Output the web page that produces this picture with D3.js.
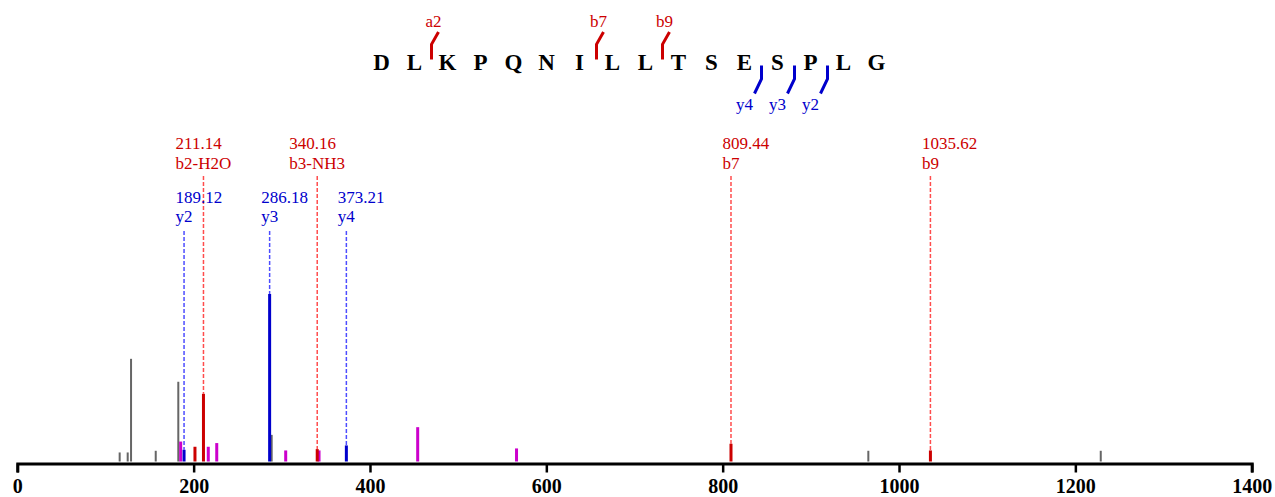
<!DOCTYPE html>
<html>
<head>
<meta charset="utf-8">
<script src="https://cdn.jsdelivr.net/npm/d3@7"></script>
<style>
  html, body { margin: 0; padding: 0; background: #fff; }
  svg { display: block; }
  text { font-family: "Liberation Serif", "Times New Roman", serif; }
</style>
</head>
<body>
<svg id="chart" width="1275" height="497"></svg>
<script>
// ---------- data ----------
const sequence = ["D","L","K","P","Q","N","I","L","L","T","S","E","S","P","L","G"];

// N-terminal (b/a) fragments: name, number of residues
const nTermNames = ["a2", "b7", "b9"];
const nTermSites = [2, 7, 9];
// C-terminal (y) fragments: name, number of residues
const cTermNames = ["y4", "y3", "y2"];
const cTermSites = [4, 3, 2];

// annotated peaks
const labelMz    = [211.14, 340.16, 809.44, 1035.62, 189.12, 286.18, 373.21];
const labelText  = ["211.14", "340.16", "809.44", "1035.62", "189.12", "286.18", "373.21"];
const labelIon   = ["b2-H2O", "b3-NH3", "b7", "b9", "y2", "y3", "y4"];
const labelType  = ["b", "b", "b", "b", "y", "y", "y"];

// all peaks: m/z, relative intensity, class
const peakMz   = [116.1, 125.2, 129.0, 157.0, 182.6, 185.3, 189.12, 201.5, 211.14, 216.6, 226.2,
                  286.18, 288.5, 304.4, 340.16, 342.2, 373.21, 454.1, 566.2, 809.44, 965.2, 1035.62, 1228.8];
const peakInt  = [5.4, 5.4, 61.3, 6.4, 47.6, 11.9, 7.0, 8.8, 40.4, 8.8, 11.0,
                  100, 15.9, 6.6, 7.4, 6.6, 9.6, 20.5, 7.8, 10.6, 6.4, 6.6, 6.4];
const peakType = ["o","o","o","o","o","m","y","b","b","m","m",
                  "y","o","m","b","m","y","m","m","b","o","b","o"];

const xTicks = [0, 200, 400, 600, 800, 1000, 1200, 1400];

// ---------- styles ----------
const peakColor = { b: "#cc0000", y: "#0000cc", m: "#cc00cc", o: "#666666" };
const textColor = { b: "#cc0000", y: "#0000cc" };
const dashColor = { b: "#ff4d4d", y: "#4d4dff" };

const svg = d3.select("#chart");

const x = d3.scaleLinear().domain([0, 1400]).range([17.3, 1251.7]);
const y = d3.scaleLinear().domain([0, 100]).range([461.5, 294]);

// ---------- dashed guide lines ----------
const labels = labelMz.map((mz, i) => ({ mz, text: labelText[i], ion: labelIon[i], type: labelType[i] }));
const peaks = peakMz.map((mz, i) => ({ mz, inten: peakInt[i], type: peakType[i] }));
const intensityOf = mz => peaks.find(p => Math.abs(p.mz - mz) < 0.01).inten;

const lineTop = { b: 176, y: 231 };
svg.append("g").selectAll("line").data(labels).join("line")
  .attr("x1", d => x(d.mz)).attr("x2", d => x(d.mz))
  .attr("y1", d => lineTop[d.type])
  .attr("y2", d => y(intensityOf(d.mz)))
  .attr("stroke", d => dashColor[d.type])
  .attr("stroke-width", 1.5)
  .attr("stroke-dasharray", "4,2");

// ---------- peaks ----------
const order = ["o", "m", "b", "y"];
const sorted = peaks.slice().sort((a, b) => order.indexOf(a.type) - order.indexOf(b.type));
svg.append("g").selectAll("rect").data(sorted).join("rect")
  .attr("x", d => x(d.mz) - (d.type === "o" ? 1 : 1.5))
  .attr("width", d => d.type === "o" ? 2 : 3)
  .attr("y", d => y(d.inten))
  .attr("height", d => y(0) - y(d.inten))
  .attr("fill", d => peakColor[d.type]);

// ---------- axis ----------
const axis = svg.append("g").attr("transform", "translate(0,463.5)")
  .call(d3.axisBottom(x).tickValues(xTicks).tickSize(9).tickSizeOuter(9).tickFormat(d3.format("d")));
axis.select(".domain").attr("stroke", "#000").attr("stroke-width", 3);
axis.selectAll(".tick line").attr("stroke", "#000").attr("stroke-width", 2.5);
axis.selectAll(".tick text")
  .attr("y", 29.5).attr("dy", 0)
  .attr("fill", "#000")
  .style("font-family", "'Liberation Serif', 'Times New Roman', serif")
  .style("font-size", "20px").style("font-weight", "bold");

// ---------- peak labels ----------
const lab = svg.append("g");
const lineY = { b: [149.3, 169.3], y: [203.3, 222.3] };
labels.forEach(d => {
  const g = lab.append("g");
  const t2 = g.append("text").text(d.ion)
    .attr("font-size", 17).attr("fill", textColor[d.type]);
  const w = t2.node().getComputedTextLength();
  const x0 = x(d.mz) - w / 2;
  t2.attr("x", x0).attr("y", lineY[d.type][1]);
  g.append("text").text(d.text)
    .attr("x", x0).attr("y", lineY[d.type][0])
    .attr("font-size", 17).attr("fill", textColor[d.type]);
});

// ---------- peptide sequence ----------
const seqX = d3.scaleLinear().domain([0, sequence.length - 1]).range([381.5, 876.5]);
const step = seqX(1) - seqX(0);
svg.append("g").selectAll("text").data(sequence).join("text")
  .attr("x", (d, i) => seqX(i))
  .attr("y", 69.5)
  .attr("text-anchor", "middle")
  .attr("font-size", 23).attr("font-weight", "bold")
  .attr("fill", "#000")
  .text(d => d);

// N-terminal markers (above)
const nt = svg.append("g");
nTermSites.forEach((s, i) => {
  const cx = seqX(s - 1) + step / 2 + 0.5;
  nt.append("path")
    .attr("d", `M${cx},59.5 L${cx},44.3 L${cx + 7},32`)
    .attr("fill", "none").attr("stroke", peakColor.b).attr("stroke-width", 3);
  nt.append("text").text(nTermNames[i])
    .attr("x", cx + 2).attr("y", 26.5).attr("text-anchor", "middle")
    .attr("font-size", 17).attr("fill", textColor.b);
});

// C-terminal markers (below)
const ct = svg.append("g");
cTermSites.forEach((s, i) => {
  const cx = seqX(sequence.length - s - 1) + step / 2 + 0.5;
  ct.append("path")
    .attr("d", `M${cx},65.5 L${cx},79 L${cx - 7},93.5`)
    .attr("fill", "none").attr("stroke", peakColor.y).attr("stroke-width", 3);
  ct.append("text").text(cTermNames[i])
    .attr("x", cx - 17).attr("y", 110).attr("text-anchor", "middle")
    .attr("font-size", 17).attr("fill", textColor.y);
});
</script>
</body>
</html>
